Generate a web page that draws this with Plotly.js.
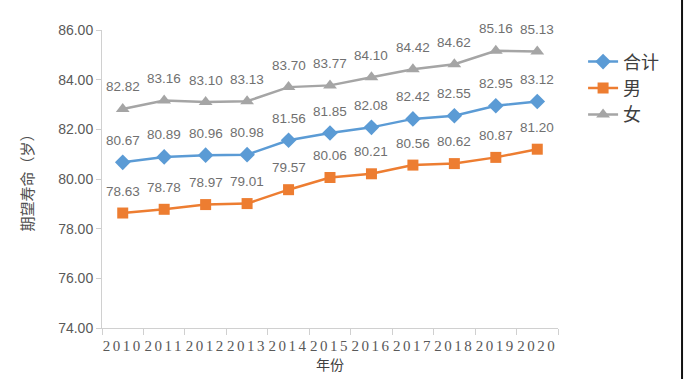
<!DOCTYPE html>
<html>
<head>
<meta charset="utf-8">
<script src="https://cdn.plot.ly/plotly-3.0.1.min.js"></script>
<style>
html,body{margin:0;padding:0;background:#fff;}
#chart{width:684px;height:379px;}
.xtick text{letter-spacing:2.5px;}
</style>
</head>
<body>
<div id="chart"></div>
<script>
var years = ['2010','2011','2012','2013','2014','2015','2016','2017','2018','2019','2020'];
var total = [80.67, 80.89, 80.96, 80.98, 81.56, 81.85, 82.08, 82.42, 82.55, 82.95, 83.12];
var male = [78.63, 78.78, 78.97, 79.01, 79.57, 80.06, 80.21, 80.56, 80.62, 80.87, 81.20];
var female = [82.82, 83.16, 83.10, 83.13, 83.70, 83.77, 84.10, 84.42, 84.62, 85.16, 85.13];
var names = ['合计', '男', '女'];
var yTicks = [74, 76, 78, 80, 82, 84, 86];

function mk(name, vals, color, symbol, size) {
  return {
    x: years, y: vals, name: name, type: 'scatter', mode: 'lines+markers',
    line: {color: color, width: 2.5},
    marker: {color: color, symbol: symbol, size: size},
    hoverinfo: 'skip'
  };
}
var traces = [
  mk(names[0], total, '#5B9BD5', 'diamond', 12),
  mk(names[1], male, '#ED7D31', 'square', 11),
  mk(names[2], female, '#A5A5A5', 'triangle-up', 12)
];

var annotations = [];
[total, male, female].forEach(function(arr){
  arr.forEach(function(v, i){
    annotations.push({
      x: i, y: v, text: v.toFixed(2), showarrow: false,
      yshift: 22, font: {family: 'Liberation Sans, Arial', size: 13.5, color: '#707070'}
    });
  });
});

var layout = {
  width: 684, height: 379,
  margin: {l: 102, r: 126, t: 30, b: 51},
  paper_bgcolor: '#fff', plot_bgcolor: '#fff',
  showlegend: true,
  legend: {x: 1.055, y: 0.955, xanchor: 'left', yanchor: 'top',
    font: {family: 'Noto Sans CJK SC', size: 18, color: '#404040'},
    tracegroupgap: 0, itemwidth: 30},
  xaxis: {
    type: 'category', range: [-0.5, 10.5], showgrid: false, zeroline: false,
    showline: true, linecolor: '#d0d0d0', linewidth: 1,
    ticks: 'outside', tickson: 'boundaries', ticklen: 6, tickcolor: '#d0d0d0',
    ticklabelstandoff: 4,
    tickfont: {family: 'Liberation Serif', size: 15, color: '#595959'},
    title: {text: '年份', standoff: 6, font: {family: 'Noto Sans CJK SC', size: 14, color: '#404040'}}
  },
  yaxis: {
    range: [74, 86], tickvals: yTicks, ticktext: yTicks.map(function(v){return v.toFixed(2);}),
    showgrid: false, zeroline: false,
    showline: true, linecolor: '#d0d0d0', linewidth: 1,
    ticks: 'outside', ticklen: 5, tickcolor: '#d0d0d0',
    tickfont: {family: 'Liberation Sans, Arial', size: 14, color: '#595959'},
    title: {text: '期望寿命（岁）', standoff: 20, font: {family: 'Noto Sans CJK SC', size: 15, color: '#505050'}}
  },
  annotations: annotations,
  shapes: [{type: 'line', xref: 'paper', yref: 'paper', x0: 1.272, x1: 1.272, y0: -0.2, y1: 1.12,
    line: {color: '#111', width: 2}}]
};

Plotly.newPlot('chart', traces, layout, {displayModeBar: false, staticPlot: true});
</script>
</body>
</html>
